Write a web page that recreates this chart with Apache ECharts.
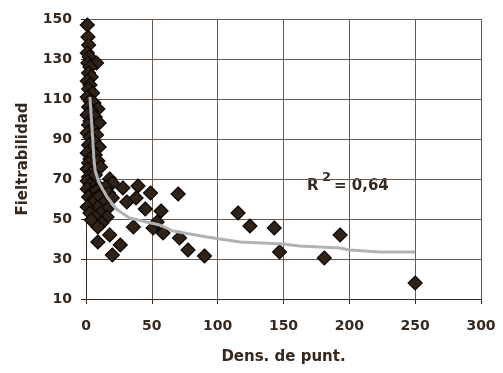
<!DOCTYPE html>
<html>
<head>
<meta charset="utf-8">
<script src="https://cdn.jsdelivr.net/npm/echarts@6/dist/echarts.min.js"></script>
<style>
  html, body { margin: 0; padding: 0; background: #fff; }
  #chart { width: 503px; height: 373px; }
</style>
</head>
<body>
<div id="chart"></div>
<script>
// scatter points [dens, fieltrabilidad]
const points = [
  [1, 147], [1.5, 141], [2, 137], [1, 133], [2.5, 131], [1.5, 128], [8, 128], [3, 126],
  [2, 123], [4, 121], [1, 119], [3, 117], [2, 115], [5, 113], [1, 111], [3, 109],
  [6, 108], [2, 106], [9, 105], [4, 104], [1, 102], [7, 101], [3, 99], [10, 98],
  [2, 97], [5, 95], [1, 93], [8, 92], [3, 91], [6, 89], [2, 87], [10, 86],
  [4, 85], [1, 83], [7, 82], [3, 80], [9, 79], [2, 78], [5, 76], [1, 75],
  [11, 76], [4, 73], [2, 71], [7, 72], [1, 69], [18, 70], [3, 67], [20, 68],
  [6, 66], [10, 66], [1, 65], [15, 66], [28, 65.5], [39.5, 66.5], [4, 63], [8, 64],
  [12, 63], [17, 63], [49, 63], [70, 62.5], [2, 61], [6, 60], [10, 61], [20, 60.5],
  [31, 58.5], [38, 60.5], [5, 58], [13, 58], [9, 56], [1, 56], [16, 55], [45, 55],
  [57, 54], [11, 53], [3, 53], [7, 51], [16, 51], [4, 49.5], [12, 48], [9, 46],
  [36, 46], [51, 45.5], [54, 48.5], [58.5, 43], [18, 42], [71, 40.5], [9, 38.5], [26, 37],
  [77.5, 34.5], [20, 32], [90, 31.5], [115.5, 53], [124.5, 46.5], [143, 45.5], [147, 33.5],
  [181, 30.5], [193, 42], [250, 18]
]

// grey trend line
const trendX = [3, 4, 5, 6, 7, 10, 16, 23, 33, 46, 56, 66, 92, 117, 150, 162, 193, 200, 223, 250]
const trendY = [111, 101, 91, 80, 74, 68, 61, 55, 50.5, 48.5, 47, 44, 41, 38.5, 37.5, 36.5, 35.5, 34.5, 33.5, 33.5]

const xTicks = { min: 0, max: 300, interval: 50 }
const yTicks = { min: 10, max: 150, interval: 20 }

const textColor = '#35281f'
const gridColor = '#66594f'
const font = 'DejaVu Sans'

const chart = echarts.init(document.getElementById('chart'))
const option = {
  animation: false,
  grid: {
    left: 86,
    right: 22,
    top: 19,
    bottom: 74,
  },
  xAxis: {
    type: 'value',
    min: xTicks.min,
    max: xTicks.max,
    interval: xTicks.interval,
    name: 'Dens. de punt.',
    nameLocation: 'middle',
    nameGap: 51,
    nameTextStyle: { color: textColor, fontSize: 15, fontWeight: 'bold', fontFamily: font },
    axisLine: { lineStyle: { color: textColor, width: 1 } },
    axisTick: { show: true, inside: false, length: 5, lineStyle: { color: textColor } },
    axisLabel: { color: textColor, fontSize: 14, fontWeight: 'bold', fontFamily: font, margin: 20 },
    splitLine: { show: true, lineStyle: { color: gridColor, width: 1 } },
  },
  yAxis: {
    type: 'value',
    min: yTicks.min,
    max: yTicks.max,
    interval: yTicks.interval,
    name: 'Fieltrabilidad',
    nameLocation: 'middle',
    nameGap: 55,
    nameRotate: 90,
    nameTextStyle: { color: textColor, fontSize: 15, fontWeight: 'bold', fontFamily: font },
    axisLine: { show: true, lineStyle: { color: textColor, width: 1 } },
    axisTick: { show: true, inside: false, length: 5, lineStyle: { color: textColor } },
    axisLabel: { color: textColor, fontSize: 14, fontWeight: 'bold', fontFamily: font, margin: 14 },
    splitLine: { show: true, lineStyle: { color: gridColor, width: 1 } },
  },
  series: [
    {
      type: 'scatter',
      data: points,
      symbol: 'diamond',
      symbolSize: 14,
      itemStyle: { color: '#2f2218', borderColor: '#0d0805', borderWidth: 1.2, opacity: 1 },
      z: 2,
    },
    {
      type: 'line',
      data: trendX.map((x, i) => [x, trendY[i]]),
      symbol: 'none',
      smooth: false,
      lineStyle: { color: '#b2b2b2', width: 3 },
      z: 3,
    },
  ],
  graphic: [
    { type: 'text', left: 307, top: 179, style: { text: 'R', fill: textColor, font: 'bold 15px "DejaVu Sans"' } },
    { type: 'text', left: 322, top: 171, style: { text: '2', fill: textColor, font: 'bold 13px "DejaVu Sans"' } },
    { type: 'text', left: 334, top: 179, style: { text: '= 0,64', fill: textColor, font: 'bold 15px "DejaVu Sans"' } },
  ],
}
chart.setOption(option)
</script>
</body>
</html>
